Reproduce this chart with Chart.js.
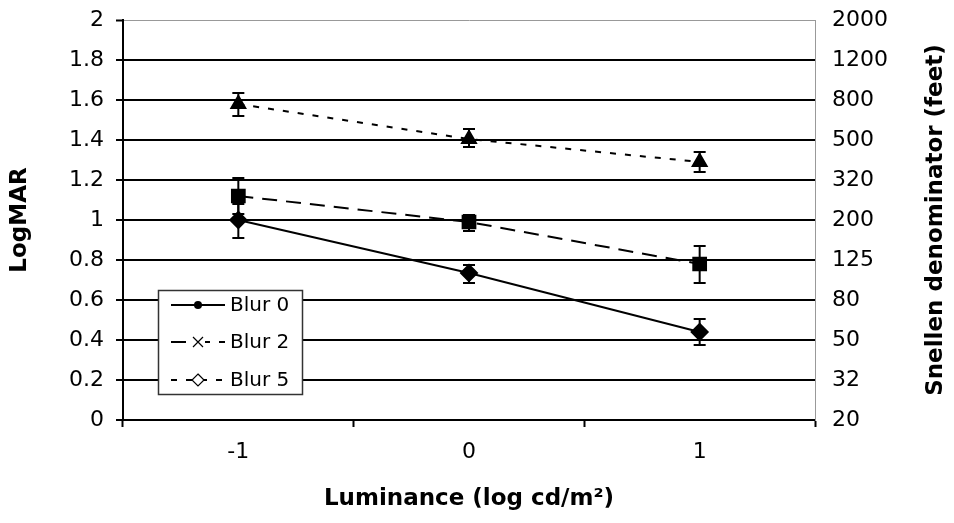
<!DOCTYPE html>
<html>
<head>
<meta charset="utf-8">
<script src="https://cdn.jsdelivr.net/npm/chart.js@4.4.0/dist/chart.umd.min.js"></script>
<style>
    html, body { margin: 0; padding: 0; background: #fff; }
    #wrap { width: 954px; height: 523px; position: relative; }
</style>
</head>
<body>
<div id="wrap"><canvas id="chart"></canvas></div>
<script>
// Categories (x axis)
const luminance = ["-1", "0", "1"];

// Series values + error bar ends
const blur0 = [1.0, 0.735, 0.44];
const blur0Low = [0.91, 0.685, 0.375];
const blur0High = [1.08, 0.775, 0.505];

const blur2 = [1.12, 0.99, 0.78];
const blur2Low = [1.03, 0.945, 0.685];
const blur2High = [1.21, 1.025, 0.87];

const blur5 = [1.58, 1.405, 1.29];
const blur5Low = [1.52, 1.365, 1.24];
const blur5High = [1.635, 1.455, 1.34];

// Tick labels
const logmarTicks = [0, 0.2, 0.4, 0.6, 0.8, 1, 1.2, 1.4, 1.6, 1.8, 2];
const snellenTicks = ["20", "32", "50", "80", "125", "200", "320", "500", "800", "1200", "2000"];

const FONT = "'DejaVu Sans', sans-serif";

// error bars under the markers
const errorBars = {
    id: "errorBars",
    beforeDatasetsDraw(chart) {
        const ctx = chart.ctx;
        const x = chart.scales.x, y = chart.scales.y;
        const sets = [[blur0Low, blur0High], [blur2Low, blur2High], [blur5Low, blur5High]];
        ctx.save();
        ctx.strokeStyle = "#000";
        ctx.lineWidth = 2;
        sets.forEach(([lo, hi]) => {
            lo.forEach((v, i) => {
                const px = x.getPixelForValue(i);
                const y1 = y.getPixelForValue(v), y2 = y.getPixelForValue(hi[i]);
                ctx.beginPath();
                ctx.moveTo(px, y1); ctx.lineTo(px, y2);
                ctx.moveTo(px - 6, y1); ctx.lineTo(px + 6, y1);
                ctx.moveTo(px - 6, y2); ctx.lineTo(px + 6, y2);
                ctx.stroke();
            });
        });
        ctx.restore();
    }
};

// legend box inside the plot + right axis title
const extras = {
    id: "extras",
    afterDraw(chart) {
        const ctx = chart.ctx;
        ctx.save();
        // right title (reads bottom to top)
        ctx.translate(936, 220);
        ctx.rotate(-Math.PI / 2);
        ctx.font = "bold 23px " + FONT;
        ctx.fillStyle = "#000";
        ctx.textAlign = "center";
        ctx.textBaseline = "middle";
        ctx.fillText("Snellen denominator (feet)", 0, 0);
        ctx.restore();

        // legend
        ctx.save();
        ctx.fillStyle = "#fff";
        ctx.fillRect(158, 290, 144, 104);
        ctx.strokeStyle = "#333";
        ctx.lineWidth = 1.5;
        ctx.strokeRect(158.5, 290.5, 144, 104);
        const entries = [
            { label: "Blur 0", y: 305, dash: [], mark: "dot" },
            { label: "Blur 2", y: 342, dash: [15, 9], mark: "x" },
            { label: "Blur 5", y: 380, dash: [6, 9], mark: "diamond" }
        ];
        entries.forEach(e => {
            ctx.strokeStyle = "#000";
            ctx.lineWidth = 2;
            ctx.setLineDash(e.dash);
            ctx.beginPath();
            ctx.moveTo(171, e.y); ctx.lineTo(225, e.y);
            ctx.stroke();
            ctx.setLineDash([]);
            if (e.mark === "dot") {
                ctx.fillStyle = "#000";
                ctx.beginPath(); ctx.arc(198, e.y, 4, 0, Math.PI * 2); ctx.fill();
            } else if (e.mark === "x") {
                ctx.fillStyle = "#fff";
                ctx.fillRect(191, e.y - 6, 14, 12);
                ctx.lineWidth = 1.2;
                ctx.beginPath();
                ctx.moveTo(193, e.y - 5); ctx.lineTo(203, e.y + 5);
                ctx.moveTo(203, e.y - 5); ctx.lineTo(193, e.y + 5);
                ctx.stroke();
            } else {
                ctx.fillStyle = "#fff";
                ctx.lineWidth = 1.2;
                ctx.beginPath();
                ctx.moveTo(198, e.y - 6); ctx.lineTo(204, e.y);
                ctx.lineTo(198, e.y + 6); ctx.lineTo(192, e.y);
                ctx.closePath();
                ctx.fill(); ctx.stroke();
            }
            ctx.fillStyle = "#000";
            ctx.font = "20px " + FONT;
            ctx.textAlign = "left";
            ctx.textBaseline = "middle";
            ctx.fillText(e.label, 230, e.y + 1);
        });
        ctx.restore();
    }
};

// fixed axis widths, no extra label padding at top/bottom
const fitSide = w => scale => {
    scale.width = w;
    scale.paddingTop = 0;
    scale.paddingBottom = 0;
};

new Chart(document.getElementById("chart"), {
    type: "line",
    data: {
        labels: luminance,
        datasets: [
            {
                label: "Blur 0",
                data: blur0,
                borderColor: "#000",
                backgroundColor: "#000",
                borderWidth: 2,
                pointStyle: "rectRot",
                pointRadius: 8,
                tension: 0
            },
            {
                label: "Blur 2",
                data: blur2,
                borderColor: "#000",
                backgroundColor: "#000",
                borderWidth: 2,
                borderDash: [15, 9],
                pointStyle: "rect",
                pointRadius: 9,
                tension: 0
            },
            {
                label: "Blur 5",
                data: blur5,
                borderColor: "#000",
                backgroundColor: "#000",
                borderWidth: 2,
                borderDash: [6, 9],
                pointStyle: "triangle",
                pointRadius: 8,
                tension: 0
            }
        ]
    },
    options: {
        responsive: true,
        maintainAspectRatio: false,
        animation: false,
        layout: { autoPadding: false, padding: { top: 20, left: 0, right: 0, bottom: 0 } },
        plugins: {
            legend: { display: false },
            tooltip: { enabled: false }
        },
        scales: {
            x: {
                offset: true,
                grid: {
                    offset: true,
                    drawOnChartArea: false,
                    tickLength: 7,
                    tickColor: "#000",
                    tickWidth: 2
                },
                border: { color: "#000", width: 2 },
                ticks: {
                    color: "#000",
                    padding: 12,
                    font: { family: FONT, size: 22 }
                },
                title: {
                    display: true,
                    text: "Luminance (log cd/m²)",
                    color: "#000",
                    font: { family: FONT, size: 23, weight: "bold" },
                    padding: { top: 10, bottom: 10 }
                },
                afterFit(scale) { scale.height = 103; }
            },
            y: {
                position: "left",
                min: 0,
                max: 2,
                afterBuildTicks(scale) { scale.ticks = logmarTicks.map(v => ({ value: v })); },
                grid: {
                    color: ctx => ctx.tick && ctx.tick.value === 2 ? "#999" : "#000",
                    lineWidth: ctx => ctx.tick && ctx.tick.value === 2 ? 1 : 2,
                    tickLength: 7,
                    tickColor: "#000",
                    tickWidth: 2
                },
                border: { color: "#000", width: 2 },
                ticks: {
                    color: "#000",
                    padding: 12,
                    font: { family: FONT, size: 22 },
                    callback: (v, i) => String(logmarTicks[i])
                },
                title: {
                    display: true,
                    text: "LogMAR",
                    color: "#000",
                    font: { family: FONT, size: 23, weight: "bold" },
                    padding: { top: 6, bottom: 0 }
                },
                afterFit: fitSide(123)
            },
            y2: {
                position: "right",
                min: 0,
                max: 2,
                afterBuildTicks(scale) { scale.ticks = logmarTicks.map(v => ({ value: v })); },
                grid: { drawOnChartArea: false, drawTicks: false },
                border: { color: "#999", width: 1 },
                ticks: {
                    color: "#000",
                    padding: 17,
                    font: { family: FONT, size: 22 },
                    callback: (v, i) => snellenTicks[i]
                },
                afterFit: fitSide(139)
            }
        }
    },
    plugins: [errorBars, extras]
});
</script>
</body>
</html>
